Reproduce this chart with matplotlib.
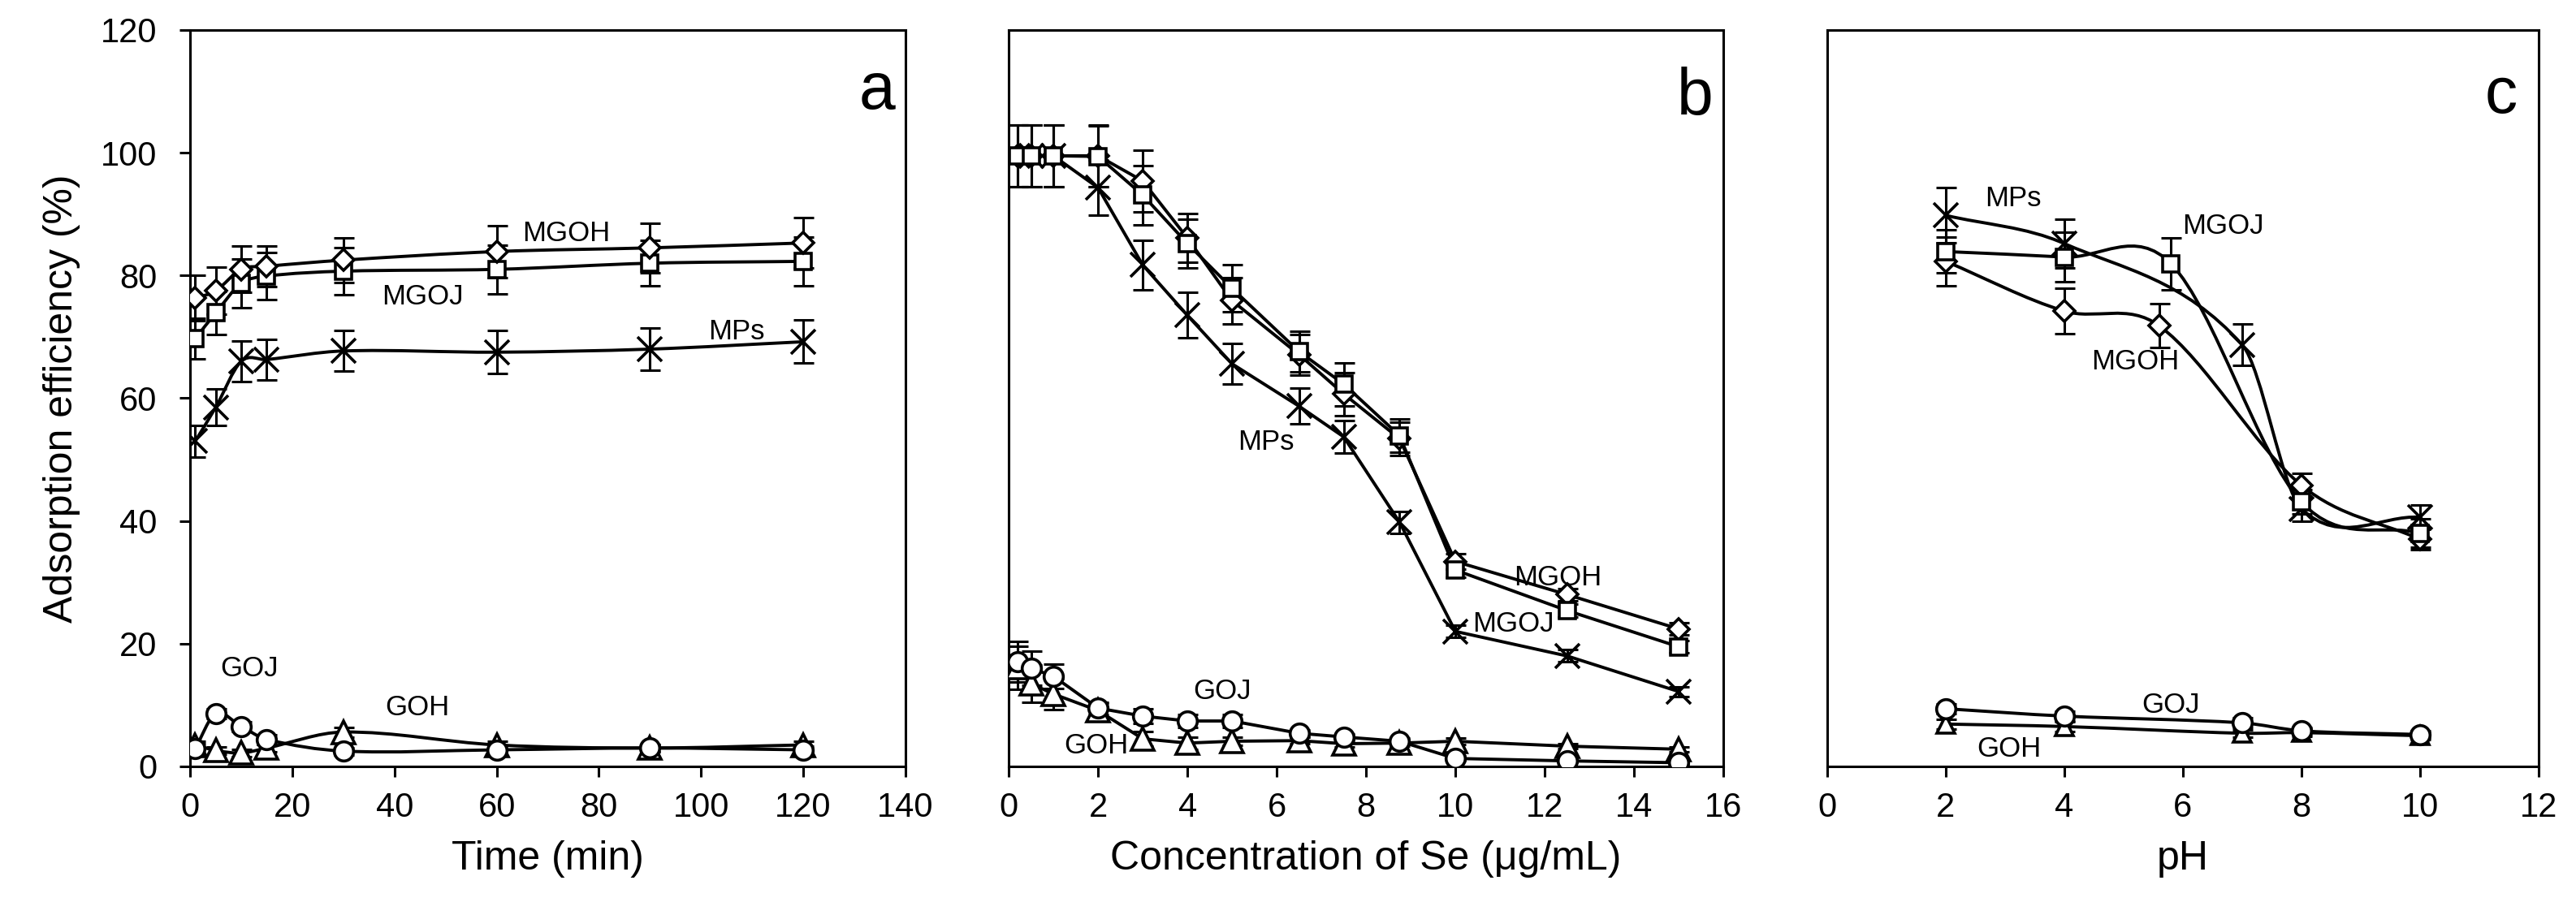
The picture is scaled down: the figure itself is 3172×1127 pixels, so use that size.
import matplotlib
matplotlib.use('Agg')
import matplotlib.pyplot as plt
import numpy as np
from matplotlib.path import Path
from matplotlib.patches import PathPatch

plt.rcParams['font.family'] = ['Liberation Sans', 'DejaVu Sans']

# ---- panel a: contact time ----
time_min = [1, 5, 10, 15, 30, 60, 90, 120]
a_mgoh = [76.3, 77.5, 81.0, 81.5, 82.5, 83.9, 84.5, 85.3]
a_mgoh_err = [3.7, 3.8, 3.8, 3.3, 3.6, 4.2, 4.0, 4.1]
a_mgoj = [69.7, 73.9, 78.7, 79.9, 80.7, 81.0, 82.0, 82.3]
a_mgoj_err = [3.3, 3.5, 4.0, 3.8, 3.8, 4.0, 3.7, 4.0]
a_mps = [53.0, 58.5, 66.0, 66.3, 67.7, 67.5, 68.0, 69.2]
a_mps_err = [2.6, 3.0, 3.3, 3.3, 3.3, 3.5, 3.5, 3.5]
a_goj = [2.9, 8.6, 6.5, 4.4, 2.5, 2.7, 3.0, 2.7]
a_goj_err = [0.8, 0.8, 0.8, 0.8, 0.6, 0.6, 0.6, 0.6]
a_goh = [3.5, 2.6, 2.2, 3.0, 5.6, 3.5, 3.0, 3.5]
a_goh_err = [0.6, 0.6, 0.6, 0.6, 0.8, 0.6, 0.6, 0.6]

# ---- panel b: Se concentration ----
conc = [0.2, 0.5, 1, 2, 3, 4, 5, 6.5, 7.5, 8.75, 10, 12.5, 15]
b_mgoh = [99.5, 99.5, 99.5, 99.5, 95.4, 86.1, 75.9, 67.1, 60.7, 53.4, 33.4, 28.0, 22.4]
b_mgoh_err = [5.0, 5.0, 5.0, 5.0, 5.0, 4.0, 3.8, 3.3, 3.5, 2.7, 1.2, 1.0, 1.0]
b_mgoj = [99.5, 99.5, 99.5, 99.4, 93.1, 85.2, 77.9, 67.6, 62.3, 53.9, 32.0, 25.4, 19.5]
b_mgoj_err = [5.0, 5.0, 5.0, 5.0, 4.8, 4.0, 3.8, 3.3, 3.5, 2.7, 1.2, 1.0, 1.0]
b_mps = [99.5, 99.5, 99.5, 94.3, 81.7, 73.5, 65.6, 58.7, 53.7, 39.8, 22.0, 18.0, 12.2]
b_mps_err = [5.0, 5.0, 5.0, 4.5, 4.0, 3.7, 3.3, 2.9, 2.6, 1.8, 1.0, 1.0, 0.8]
b_goj = [17.1, 16.0, 14.7, 9.5, 8.2, 7.4, 7.4, 5.4, 4.8, 4.1, 1.3, 0.9, 0.6]
b_goj_err = [3.3, 2.8, 2.0, 1.0, 1.2, 1.0, 1.0, 0.6, 0.5, 0.5, 0.4, 0.3, 0.3]
b_goh = [16.1, 13.5, 11.8, 9.1, 4.5, 3.8, 4.1, 4.2, 3.7, 3.8, 4.1, 3.3, 2.8]
b_goh_err = [3.5, 3.0, 2.5, 1.2, 1.2, 1.0, 0.6, 0.5, 0.5, 0.5, 0.5, 0.4, 0.4]

# ---- panel c: pH ----
ph_mgoh = [2, 4, 5.6, 8, 10]
c_mgoh = [82.3, 74.2, 71.8, 45.8, 37.0]
c_mgoh_err = [4.0, 3.7, 3.6, 2.0, 1.7]
ph_mgoj = [2, 4, 5.8, 8, 10]
c_mgoj = [83.9, 83.0, 81.9, 43.1, 38.0]
c_mgoj_err = [3.5, 4.0, 4.2, 2.0, 2.3]
ph_mps = [2, 4, 7, 8, 10]
c_mps = [89.8, 85.2, 68.7, 42.0, 40.6]
c_mps_err = [4.5, 4.0, 3.4, 2.0, 2.0]
ph_go = [2, 4, 7, 8, 10]
c_goj = [9.4, 8.2, 7.1, 5.8, 5.2]
c_goj_err = [0.8, 0.8, 0.8, 0.6, 0.6]
c_goh = [6.9, 6.5, 5.4, 5.5, 5.0]
c_goh_err = [0.8, 0.8, 0.6, 0.6, 0.6]


def smooth_curve(ax, x, y):
    # smooth line through the points, drawn as cubic bezier segments
    x = np.asarray(x, float)
    y = np.asarray(y, float)
    n = len(x)
    m = np.zeros(n)
    m[0] = (y[1] - y[0]) / (x[1] - x[0])
    m[-1] = (y[-1] - y[-2]) / (x[-1] - x[-2])
    for i in range(1, n - 1):
        m[i] = (y[i + 1] - y[i - 1]) / (x[i + 1] - x[i - 1])
    verts = [(x[0], y[0])]
    codes = [Path.MOVETO]
    for i in range(n - 1):
        dx = x[i + 1] - x[i]
        verts += [(x[i] + dx / 3, y[i] + m[i] * dx / 3),
                  (x[i + 1] - dx / 3, y[i + 1] - m[i + 1] * dx / 3),
                  (x[i + 1], y[i + 1])]
        codes += [Path.CURVE4] * 3
    ax.add_patch(PathPatch(Path(verts, codes), fill=False, lw=2.8, ec='k', zorder=3))


def series(ax, x, y, err, marker, ms, smooth):
    ax.errorbar(x, y, yerr=err, fmt='none', ecolor='k', elinewidth=2.2,
                capsize=9, capthick=2.2, zorder=2)
    if smooth:
        smooth_curve(ax, x, y)
    else:
        ax.plot(x, y, '-', color='k', lw=2.8, zorder=3)
    ax.plot(x, y, ls='none', marker=marker, ms=ms, mfc='white', mec='k',
            mew=2.6, zorder=4)


fig = plt.figure(figsize=(31.72, 11.27), dpi=100)
bottom = 0.1624
height = 0.8048
axa = fig.add_axes([0.0738, bottom, 0.2777, height])
axb = fig.add_axes([0.3916, bottom, 0.2774, height])
axc = fig.add_axes([0.7093, bottom, 0.2762, height])

series(axa, time_min, a_goh, a_goh_err, '^', 20, True)
series(axa, time_min, a_goj, a_goj_err, 'o', 17, True)
series(axa, time_min, a_mps, a_mps_err, 'x', 22, True)
series(axa, time_min, a_mgoj, a_mgoj_err, 's', 14, True)
series(axa, time_min, a_mgoh, a_mgoh_err, 'D', 13, True)

series(axb, conc, b_goh, b_goh_err, '^', 20, False)
series(axb, conc, b_goj, b_goj_err, 'o', 17, False)
series(axb, conc, b_mps, b_mps_err, 'x', 22, False)
series(axb, conc, b_mgoh, b_mgoh_err, 'D', 13, False)
series(axb, conc, b_mgoj, b_mgoj_err, 's', 14, False)

series(axc, ph_go, c_goh, c_goh_err, '^', 16, True)
series(axc, ph_go, c_goj, c_goj_err, 'o', 17, True)
series(axc, ph_mps, c_mps, c_mps_err, 'x', 22, True)
series(axc, ph_mgoh, c_mgoh, c_mgoh_err, 'D', 13, True)
series(axc, ph_mgoj, c_mgoj, c_mgoj_err, 's', 14, True)

lab = dict(fontsize=25, ha='center', va='center', zorder=5)
axa.text(73.6, 86.9, 'MGOH', **lab)
axa.text(45.5, 76.6, 'MGOJ', **lab)
axa.text(107, 70.9, 'MPs', **lab)
axa.text(11.6, 16.0, 'GOJ', **lab)
axa.text(44.5, 9.6, 'GOH', **lab)

axb.text(12.3, 30.8, 'MGOH', **lab)
axb.text(11.3, 23.2, 'MGOJ', **lab)
axb.text(5.76, 52.8, 'MPs', **lab)
axb.text(4.78, 12.2, 'GOJ', **lab)
axb.text(1.95, 3.4, 'GOH', **lab)

axc.text(3.13, 92.5, 'MPs', **lab)
axc.text(6.68, 88.0, 'MGOJ', **lab)
axc.text(5.2, 66.0, 'MGOH', **lab)
axc.text(5.8, 10.0, 'GOJ', **lab)
axc.text(3.07, 2.9, 'GOH', **lab)

axa.text(134.5, 110, 'a', fontsize=58, ha='center', va='center')
axb.text(15.36, 109, 'b', fontsize=58, ha='center', va='center')
axc.text(11.37, 109.3, 'c', fontsize=58, ha='center', va='center')

axa.set_xlim(0, 140)
axa.set_xticks(np.arange(0, 141, 20))
axb.set_xlim(0, 16)
axb.set_xticks(np.arange(0, 17, 2))
axc.set_xlim(0, 12)
axc.set_xticks(np.arange(0, 13, 2))

for ax in (axa, axb, axc):
    ax.set_ylim(0, 120)
    for s in ax.spines.values():
        s.set_linewidth(2.2)
    ax.tick_params(axis='x', direction='out', length=9.5, width=2.2,
                   labelsize=30, pad=13)
    ax.tick_params(axis='y', direction='out', length=9.5, width=2.2,
                   labelsize=30, pad=20)

axa.set_yticks(np.arange(0, 121, 20))
axb.set_yticks([])
axc.set_yticks([])

axa.set_xlabel('Time (min)', fontsize=36, labelpad=14)
axb.set_xlabel('Concentration of Se (\u03bcg/mL)', fontsize=36, labelpad=14)
axc.set_xlabel('pH', fontsize=36, labelpad=14)
axa.set_ylabel('Adsorption efficiency (%)', fontsize=36, labelpad=18)

fig.savefig('out.png', dpi=100)
